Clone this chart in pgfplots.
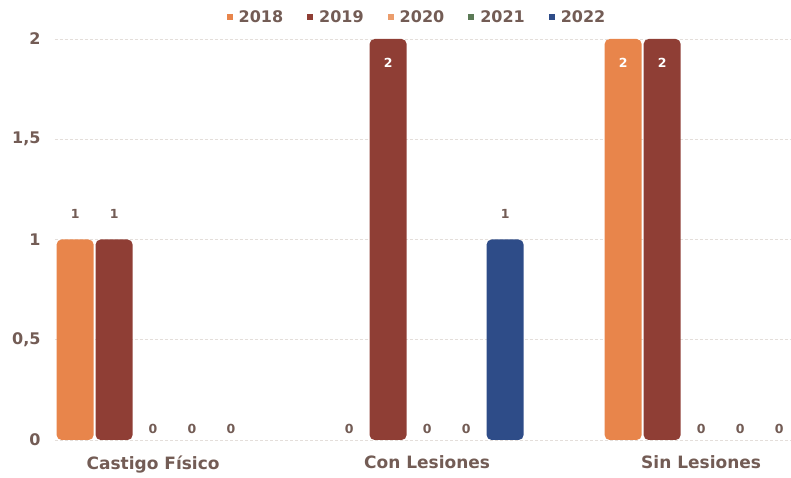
\documentclass[border=0pt]{standalone}
\usepackage{pgfplots}
\usepackage{pgfplotstable}
\pgfplotsset{compat=1.18}
\usepackage{fontspec}
\setmainfont{DejaVu Sans}
\definecolor{c2018}{HTML}{E8854B}
\definecolor{c2019}{HTML}{8F3E35}
\definecolor{c2020}{HTML}{EB9D6C}
\definecolor{c2021}{HTML}{5B7A56}
\definecolor{c2022}{HTML}{2E4C88}
\definecolor{txt}{HTML}{735C55}
\definecolor{gridc}{HTML}{E4DEDA}
\pgfplotstableread{
cat y2018 y2019 y2020 y2021 y2022
0   1     1     0     0     0
1   0     2     0     0     1
2   2     2     0     0     0
}\datatable
\pgfplotsset{
  barstyle/.style={fill=#1, draw=none, rounded corners=5pt,
    restrict y to domain=0.5:10, forget plot,
    nodes near coords,
    coordinate style/.condition={y<1.5}{yshift=17pt, text=txt},
    coordinate style/.condition={y>1.5}{anchor=north, yshift=-16pt, text=white}},
  zerostyle/.style={fill=none, draw=none,
    restrict y to domain=-0.5:0.5, forget plot,
    nodes near coords,
    every node near coord/.append style={yshift=3pt, text=txt}},
}
\begin{document}
\begin{tikzpicture}
\useasboundingbox (-55pt,-38pt) rectangle (736pt,440pt);
\begin{axis}[
  at={(0,0)}, anchor=south west,
  scale only axis, width=736pt, height=401pt,
  xmin=-0.358, xmax=2.328, ymin=0, ymax=2,
  ybar, bar width=0.135,
  axis line style={draw=none},
  major tick style={draw=none},
  ymajorgrids,
  grid style={gridc, dash pattern=on 3pt off 2pt, line width=0.6pt},
  ytick={0,0.5,1,1.5,2},
  yticklabels={0,{0,5},1,{1,5},2},
  xtick={0,1,2},
  xticklabels={Castigo Físico, Con Lesiones, Sin Lesiones},
  yticklabel style={font=\fontsize{16}{19}\selectfont\bfseries, text=txt, xshift=-11pt},
  xticklabel style={font=\fontsize{17}{20}\selectfont\bfseries, text=txt, yshift=-8pt},
  legend columns=5,
  legend style={at={(0.5,1)}, anchor=south, yshift=11pt, xshift=-6pt, draw=none, fill=none,
     font=\fontsize{16}{19}\selectfont\bfseries, text=txt,
     /tikz/every odd column/.append style={column sep=4pt},
     /tikz/every even column/.append style={column sep=22pt}},
  legend image code/.code={\fill[#1, draw=none] (0pt,-3pt) rectangle (6pt,3pt);},
  every node near coord/.append style={font=\fontsize{12.5}{14}\selectfont\bfseries,
     /pgf/number format/assume math mode=true},
]
\addlegendimage{fill=c2018, draw=none}
\addlegendimage{fill=c2019, draw=none}
\addlegendimage{fill=c2020, draw=none}
\addlegendimage{fill=c2021, draw=none}
\addlegendimage{fill=c2022, draw=none}
\addplot[barstyle=c2018, bar shift=-0.2846] table[x=cat, y=y2018] {\datatable};
\addplot[barstyle=c2019, bar shift=-0.1423] table[x=cat, y=y2019] {\datatable};
\addplot[barstyle=c2022, bar shift=0.2846] table[x=cat, y=y2022] {\datatable};
\addplot[zerostyle, bar shift=-0.2846] table[x=cat, y=y2018] {\datatable};
\addplot[zerostyle, bar shift=-0.1423] table[x=cat, y=y2019] {\datatable};
\addplot[zerostyle, bar shift=0] table[x=cat, y=y2020] {\datatable};
\addplot[zerostyle, bar shift=0.1423] table[x=cat, y=y2021] {\datatable};
\addplot[zerostyle, bar shift=0.2846] table[x=cat, y=y2022] {\datatable};
\legend{2018,2019,2020,2021,2022}
\end{axis}
\end{tikzpicture}
\end{document}
